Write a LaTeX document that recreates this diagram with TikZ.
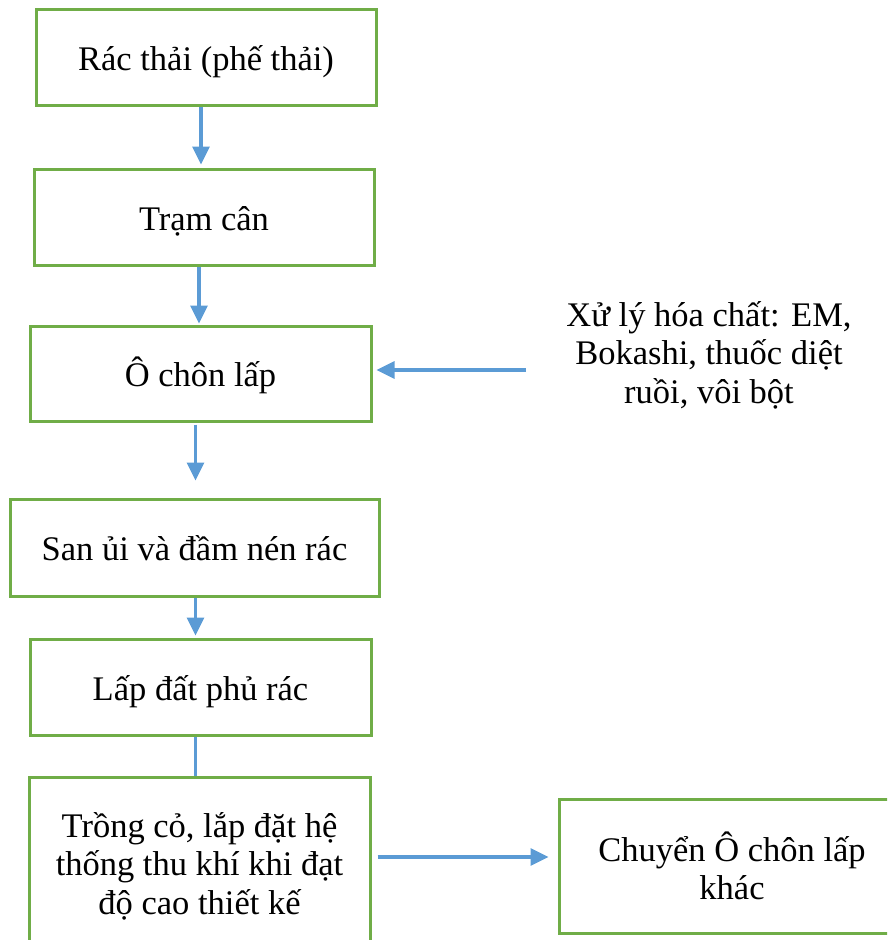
\documentclass[tikz,border=0pt]{standalone}
\usepackage{fontspec}
\setmainfont{Liberation Serif}
\usepackage{tikz}
\usetikzlibrary{arrows.meta}
\definecolor{boxgreen}{RGB}{112,173,71}
\definecolor{arrowblue}{RGB}{91,155,213}
\tikzset{
  stepbox/.style={draw=boxgreen, line width=3pt, rectangle, inner sep=0pt, align=center},
  onebox/.style={stepbox, text height=32pt, text depth=6pt},
  arr/.style={draw=arrowblue, line width=3.2pt, -{Triangle[length=18pt,width=17pt]}},
  plainline/.style={draw=arrowblue, line width=3.2pt}
}

\begin{document}
\begin{tikzpicture}[x=1pt,y=-1pt,font=\fontsize{34.5}{38.5}\selectfont]
\useasboundingbox (0,0) rectangle (887,940);
\clip (0,0) rectangle (887,940);
\node[onebox, minimum width=340pt, minimum height=96pt] (b1) at (206,57) {Rác thải (phế thải)};
\node[onebox, minimum width=340pt, minimum height=96pt] (b2) at (204,217) {Trạm cân};
\node[onebox, minimum width=341pt, minimum height=95pt] (b3) at (200.5,373.5) {Ô chôn lấp};
\node[onebox, minimum width=369pt, minimum height=97pt] (b4) at (194.5,547.5) {San ủi và đầm nén rác};
\node[onebox, minimum width=341pt, minimum height=96pt] (b5) at (200.5,687) {Lấp đất phủ rác};
\node[stepbox, minimum width=341pt, minimum height=178pt] (b6) at (199.5,866) {Trồng cỏ, lắp đặt hệ\\thống thu khí khi đạt\\độ cao thiết kế};
\node[stepbox, minimum width=346pt, minimum height=134pt] (b7) at (732,866) {Chuyển Ô chôn lấp\\khác};
\node[align=center, inner sep=0pt] (chem) at (709,355) {Xử lý hóa chất: EM,\\Bokashi, thuốc diệt\\ruồi, vôi bột};
\coordinate (chemin) at (526,370);
\draw[arr, shorten >=3pt] ([xshift=-5pt]b1.south) -- ([xshift=-3pt]b2.north);
\draw[arr, shorten >=1pt] ([xshift=-5pt]b2.south) -- ([xshift=-1.5pt]b3.north);
\draw[arr, shorten >=17pt] ([xshift=-5pt,yshift=-2pt]b3.south) -- ([xshift=1pt]b4.north);
\draw[arr, shorten >=2pt] ([xshift=1pt]b4.south) -- ([xshift=-5pt]b5.north);
\draw[plainline] ([xshift=-5pt]b5.south) -- ([xshift=-4pt]b6.north);
\draw[arr, shorten >=4pt] (chemin) -- (b3.east |- chemin);
\draw[arr] ([xshift=6pt,yshift=9pt]b6.east) -- ([xshift=-9pt,yshift=9pt]b7.west);
\end{tikzpicture}
\end{document}
